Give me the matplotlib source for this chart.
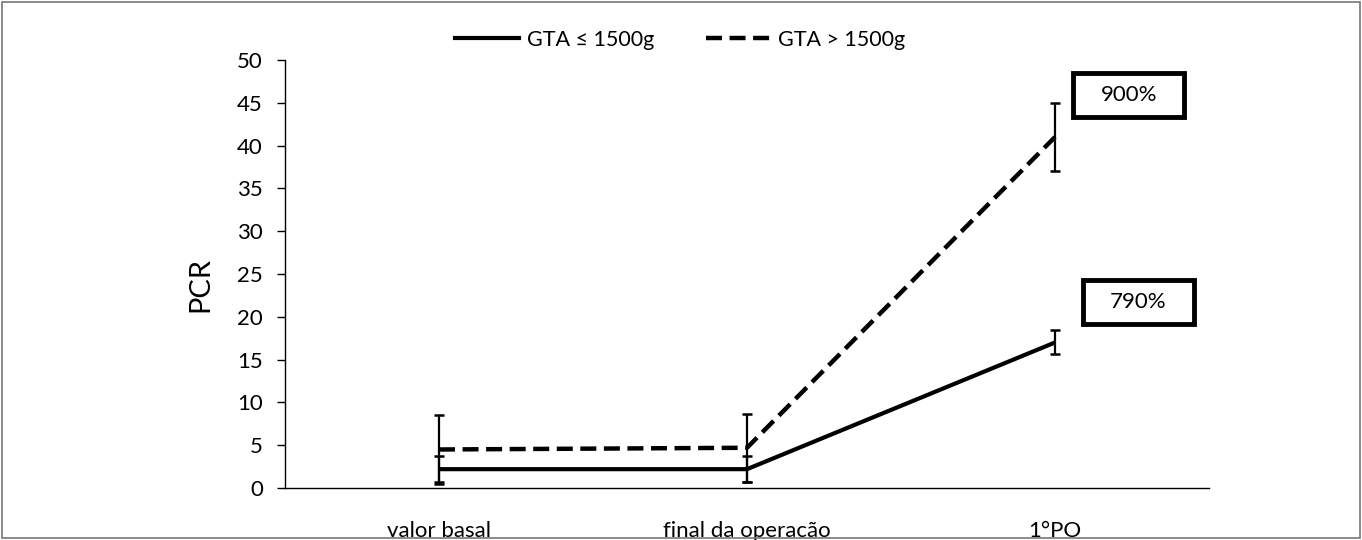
import matplotlib
matplotlib.use("Agg")
import matplotlib.pyplot as plt
from matplotlib.patches import Rectangle
from matplotlib.lines import Line2D

plt.rcParams['font.family'] = ['Lato', 'DejaVu Sans']

categories = ["valor basal", "final da operacão", "1°PO"]
low_mean = [2.2, 2.2, 17.0]
low_err = [1.5, 1.5, 1.4]
high_mean = [4.5, 4.7, 41.0]
high_err = [4.0, 4.0, 4.0]
labels = ["GTA ≤ 1500g", "GTA > 1500g"]
annotations = [("900%", 2.24, 45.9), ("790%", 2.27, 21.7)]

fig = plt.figure(figsize=(13.62, 5.4), dpi=100)
ax = fig.add_axes([285/1362, 1-488/540, (1209-285)/1362, (488-60)/540])

x = list(range(len(categories)))
dash = (3.6, 1.7)
ax.plot(x, low_mean, color='black', lw=3.0, solid_capstyle='butt')
ax.plot(x, high_mean, color='black', lw=3.2, dashes=dash)
ax.errorbar(x, low_mean, yerr=low_err, fmt='none', ecolor='black', elinewidth=1.6, capsize=3.8, capthick=1.8)
ax.errorbar(x, high_mean, yerr=high_err, fmt='none', ecolor='black', elinewidth=1.6, capsize=3.8, capthick=1.8)

ax.set_xlim(-0.5, 2.5)
ax.set_ylim(0, 50)
ax.set_yticks(range(0, 51, 5))
ax.set_xticks(x)
ax.set_xticklabels(categories, fontsize=16)
ax.tick_params(axis='x', length=0, pad=24)
ax.tick_params(axis='y', direction='out', length=6, width=1, labelsize=16, pad=10)
for s in ['top', 'right']:
    ax.spines[s].set_visible(False)
ax.spines['left'].set_linewidth(1)
ax.spines['bottom'].set_linewidth(1)
fig.text(200/1362, 1-285/540, "PCR", rotation=90, ha='center', va='center', fontsize=21)

bw, bh = 111/308, 44/8.56
for txt, cx, cy in annotations:
    ax.add_patch(Rectangle((cx - bw/2, cy - bh/2), bw, bh, fill=False, edgecolor='black', lw=3.5, clip_on=False, zorder=5))
    ax.text(cx, cy, txt, ha='center', va='center', fontsize=16, zorder=6, clip_on=False)

handles = [Line2D([], [], color='black', lw=3.0),
           Line2D([], [], color='black', lw=3.2, dashes=dash)]
fig.legend(handles, labels, loc='center', bbox_to_anchor=(680/1362, 1-40/540), ncol=2,
           frameon=False, fontsize=15.5, handlelength=3.0, columnspacing=2.4, handletextpad=0.35)

fig.add_artist(Rectangle((0.0015, 0.003), 0.997, 0.994, transform=fig.transFigure, fill=False,
                         edgecolor='#777777', lw=1.2))

fig.savefig("out.png", dpi=100)
